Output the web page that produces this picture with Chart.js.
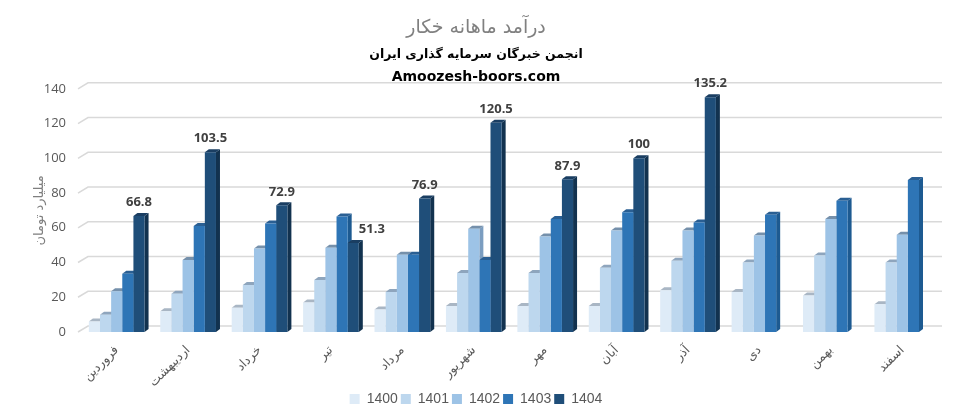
<!DOCTYPE html>
<html>
<head>
<meta charset="utf-8">
<script src="https://cdn.jsdelivr.net/npm/chart.js@4"></script>
<style>
  html, body { margin: 0; padding: 0; background: #fff; }
  canvas { display: block; }
</style>
</head>
<body>
<canvas id="revChart" width="977" height="411"></canvas>
<script>
// months (Persian calendar) and series
const months = ['فروردین', 'اردیبهشت', 'خرداد', 'تیر', 'مرداد', 'شهریور', 'مهر', 'آبان', 'آذر', 'دی', 'بهمن', 'اسفند'];
const years = ['1400', '1401', '1402', '1403', '1404'];
const rev1400 = [6, 12, 14, 17, 13, 15, 15, 15, 24, 23, 21, 16];
const rev1401 = [10, 22, 27, 30, 23, 34, 34, 37, 41, 40, 44, 40];
const rev1402 = [23.5, 41.5, 48, 48.5, 44.5, 59.5, 55, 58.5, 58.5, 55.5, 65, 56];
const rev1403 = [33.5, 61, 62.5, 66.5, 44.5, 41.5, 65, 69, 63, 67.5, 75.5, 87.5];
const rev1404 = [66.8, 103.5, 72.9, 51.3, 76.9, 120.5, 87.9, 100, 135.2, null, null, null];
const yTicks = [0, 20, 40, 60, 80, 100, 120, 140];

const fronts = ['#deebf7', '#bdd7ee', '#9dc3e6', '#2e75b6', '#1f4e79'];
const sides  = ['#b9c9da', '#98b3cf', '#7b9dc0', '#1d5a91', '#12324f'];
const tops   = ['#a9b6c4', '#8ea5bd', '#7590ab', '#2a5f93', '#1a3e62'];

const DX = 4, DY = 3;

// fake 3D: back-wall gridlines, then side + top faces behind the fronts
const depthPlugin = {
  id: 'depth',
  beforeDatasetsDraw(chart) {
    const ctx = chart.ctx;
    const area = chart.chartArea;
    const y = chart.scales.y;
    ctx.save();
    ctx.strokeStyle = '#d9d9d9';
    ctx.lineWidth = 1.5;
    yTicks.forEach(v => {
      const py = y.getPixelForValue(v);
      ctx.beginPath();
      ctx.moveTo(area.left - 3, py);
      ctx.lineTo(area.left + 7, py - 6);
      ctx.lineTo(area.right + 4, py - 6);
      ctx.stroke();
    });
    ctx.restore();

    chart.data.datasets.forEach((ds, i) => {
      chart.getDatasetMeta(i).data.forEach((bar, j) => {
        if (ds.data[j] == null) return;
        const r = bar.x + bar.width / 2, l = bar.x - bar.width / 2;
        const t = bar.y, b = bar.base;
        ctx.save();
        ctx.fillStyle = sides[i];
        ctx.beginPath();
        ctx.moveTo(r, b); ctx.lineTo(r, t); ctx.lineTo(r + DX, t - DY); ctx.lineTo(r + DX, b - DY);
        ctx.closePath(); ctx.fill();
        ctx.fillStyle = tops[i];
        ctx.beginPath();
        ctx.moveTo(l, t); ctx.lineTo(l + DX, t - DY); ctx.lineTo(r + DX, t - DY); ctx.lineTo(r, t);
        ctx.closePath(); ctx.fill();
        ctx.restore();
      });
    });
  },
  afterDatasetsDraw(chart) {
    // value labels only on 1404
    const ctx = chart.ctx;
    const idx = chart.data.datasets.length - 1;
    const ds = chart.data.datasets[idx];
    const prev = chart.data.datasets[idx - 1];
    ctx.save();
    ctx.font = 'bold 13px "Open Sans", sans-serif';
    ctx.fillStyle = '#404040';
    ctx.textAlign = 'center';
    ctx.textBaseline = 'bottom';
    chart.getDatasetMeta(idx).data.forEach((bar, j) => {
      if (ds.data[j] == null) return;
      const txt = String(ds.data[j]);
      let x = bar.x;
      // label would hit the taller neighbour bar: push it to the right
      if (prev.data[j] > ds.data[j]) x = bar.x + bar.width / 2 + ctx.measureText(txt).width / 2;
      ctx.fillText(txt, x, bar.y - 7);
    });
    ctx.restore();
  },
  afterDraw(chart) {
    // third header line
    const ctx = chart.ctx;
    const t = chart.titleBlock;
    ctx.save();
    ctx.font = 'bold 14px "DejaVu Sans", sans-serif';
    ctx.fillStyle = '#000';
    ctx.textAlign = 'center';
    ctx.textBaseline = 'middle';
    ctx.fillText('Amoozesh-boors.com', t.left + t.width / 2, 77);
    ctx.restore();
  }
};

const allData = [rev1400, rev1401, rev1402, rev1403, rev1404];

new Chart(document.getElementById('revChart'), {
  type: 'bar',
  data: {
    labels: months,
    datasets: years.map((y, i) => ({
      label: y,
      data: allData[i],
      backgroundColor: fronts[i],
      borderWidth: 0,
      categoryPercentage: 0.78,
      barPercentage: 1.0
    }))
  },
  options: {
    responsive: false,
    devicePixelRatio: 1,
    animation: false,
    layout: { padding: { left: 14, right: 39, top: 0, bottom: -5 } },
    plugins: {
      title: {
        display: true,
        text: 'درآمد ماهانه خکار',
        color: '#808080',
        font: { family: 'DejaVu Sans', size: 19, weight: 'normal', lineHeight: 1.2 },
        padding: { top: 17, bottom: 4 }
      },
      subtitle: {
        display: true,
        text: 'انجمن خبرگان سرمایه گذاری ایران',
        color: '#000',
        font: { family: 'DejaVu Sans', size: 12.5, weight: 'bold', lineHeight: 1.2 },
        padding: { top: 3, bottom: 27 }
      },
      legend: {
        position: 'bottom',
        labels: {
          boxWidth: 10, boxHeight: 10,
          color: '#595959',
          font: { family: 'Liberation Sans', size: 14 },
          padding: 3
        }
      },
      tooltip: { enabled: false }
    },
    scales: {
      x: {
        grid: { display: false, drawTicks: false },
        border: { display: false },
        afterFit: (s) => { s.height = 57; },
        ticks: {
          color: '#595959',
          font: { family: 'DejaVu Sans', size: 12.5 },
          minRotation: 45, maxRotation: 45,
          padding: 11
        }
      },
      y: {
        min: 0, max: 140,
        afterFit: (s) => { s.width = 67; },
        afterBuildTicks: (s) => { s.ticks = yTicks.map(v => ({ value: v })); },
        grid: { display: false, drawTicks: false },
        border: { display: false },
        ticks: {
          color: '#595959',
          font: { family: 'Open Sans', size: 13 },
          padding: 15
        },
        title: {
          display: true,
          text: 'میلیارد تومان',
          color: '#7f7f7f',
          font: { family: 'DejaVu Sans', size: 13 },
          padding: { top: 18, bottom: 0 }
        }
      }
    }
  },
  plugins: [depthPlugin]
});
</script>
</body>
</html>
